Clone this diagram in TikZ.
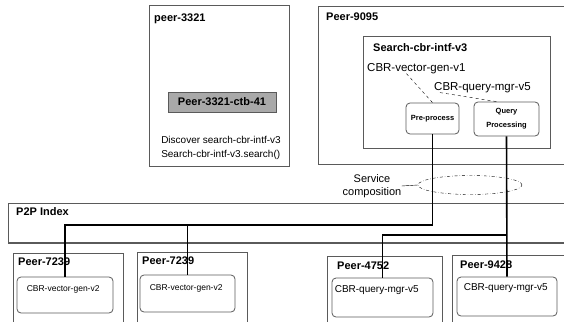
\documentclass[tikz,border=0pt]{standalone}
\usepackage{fontspec}
\setmainfont{Liberation Sans}
\usetikzlibrary{positioning,calc,shapes.geometric}
\definecolor{boxline}{HTML}{5A5A5A}
\definecolor{ctbfill}{HTML}{A9A9A9}

\begin{document}
\begin{tikzpicture}[x=1pt,y=-1pt,
  frame/.style={draw=boxline,line width=.8pt,anchor=north west,inner sep=0pt},
  inbox/.style={draw=boxline,line width=.8pt,rounded corners=4pt,inner sep=0pt},
  title/.style={font=\fontsize{11}{12}\selectfont\bfseries,anchor=north west,inner sep=0pt},
  txt/.style={font=\fontsize{10.5}{12}\selectfont,inner sep=0pt},
  small/.style={font=\fontsize{8.5}{10}\selectfont,inner sep=0pt},
  link/.style={line width=1.6pt}]
\useasboundingbox (0,0) rectangle (564,321);
\begin{scope}
\clip (0,0) rectangle (564,321);
% discovering peer
\node[frame,minimum width=140,minimum height=161] (p3321) at (149,5) {};
\node[title] (t3321) at (154,14) {peer-3321};
\node[frame,anchor=center,fill=ctbfill,minimum width=108,minimum height=20,font=\fontsize{11}{12}\selectfont\bfseries] (ctb) at (222,102) {Peer-3321-ctb-41};
\node[txt,font=\fontsize{10}{14}\selectfont,align=left] (disc) at (221,148) {Discover search-cbr-intf-v3\\Search-cbr-intf-v3.search()};
% composed service
\node[frame,minimum width=300,minimum height=158] (p9095) at (318,6) {};
\node[title] (t9095) at (326,13) {Peer-9095};
\node[frame,minimum width=187,minimum height=112] (sci) at (363,36) {};
\node[title] (tsci) at (373,43) {Search-cbr-intf-v3};
\node[txt,font=\fontsize{11.5}{13}\selectfont,anchor=base west] (cvg) at (367,71) {CBR-vector-gen-v1};
\node[txt,font=\fontsize{11.5}{13}\selectfont,anchor=base west] (cqm) at (434,90) {CBR-query-mgr-v5};
\node[inbox,minimum width=53,minimum height=31,font=\fontsize{7.5}{9}\selectfont\bfseries] (pp) at (432.5,118.5) {Pre-process};
\node[inbox,minimum width=65,minimum height=34,align=center,font=\fontsize{7.5}{14}\selectfont\bfseries] (qp) at (506.5,119) {Query\\Processing};
\draw[dashed,thin] ($(cvg.south)+(-10,0)$) -- (pp.north);
\draw[dashed,thin] ($(cqm.south west)+(6,0)$) -- ($(qp.north)+(-10,0)$);
% composition
\node[draw,dash dot,thin,ellipse,minimum width=104,minimum height=19,inner sep=0pt] (comp) at (470,185) {};
\node[txt,font=\fontsize{11}{13}\selectfont,align=center] (lcomp) at (372,186) {Service\\composition};
\draw[thin] (lcomp.east) -- (comp.west);
% index
\node[frame,minimum width=600,minimum height=39] (p2p) at (8,203) {};
\draw[boxline,line width=1.6pt] (p2p.south west) -- (p2p.south east);
\node[title] (tp2p) at (16,207) {P2P Index};
\coordinate (bus1) at (0,225);
\coordinate (bus2) at (0,235);
% providing peers
\node[frame,minimum width=110,minimum height=100] (pa) at (13,253) {};
\node[title] (tpa) at (18,258) {Peer-7239};
\node[inbox,minimum width=96,minimum height=36] (cv1) at (65,295) {};
\node[small,below right=9pt and 10pt of cv1.north west] (lcv1) {CBR-vector-gen-v2};
\node[frame,minimum width=110,minimum height=100] (pb) at (137,252) {};
\node[title] (tpb) at (142,257) {Peer-7239};
\node[inbox,minimum width=95,minimum height=37] (cv2) at (187.5,293.5) {};
\node[small,below right=10pt and 10pt of cv2.north west] (lcv2) {CBR-vector-gen-v2};
\node[frame,minimum width=115,minimum height=100] (pc) at (327,256) {};
\node[title] (tpc) at (337,262) {Peer-4752};
\node[inbox,minimum width=101,minimum height=39] (qm1) at (382.5,297.5) {};
\node[txt,font=\fontsize{10}{12}\selectfont,below right=8pt and 3pt of qm1.north west] (lqm1) {CBR-query-mgr-v5};
\node[frame,minimum width=150,minimum height=100] (pd) at (452,255) {};
\node[title] (tpd) at (460,261) {Peer-9428};
\node[inbox,minimum width=100,minimum height=39] (qm2) at (507,296.5) {};
\node[txt,font=\fontsize{10}{12}\selectfont,below right=7pt and 7pt of qm2.north west] (lqm2) {CBR-query-mgr-v5};
% bindings
\draw[link] (pp.south) -- (pp.south |- bus1) -| (cv1.north);
\draw[link] (cv2.north |- bus1) -- (cv2.north);
\draw[link] (qp.south) -- (qm2.north);
\draw[link] (qp.south |- bus2) -| (qm1.north);
\end{scope}
\end{tikzpicture}
\end{document}
